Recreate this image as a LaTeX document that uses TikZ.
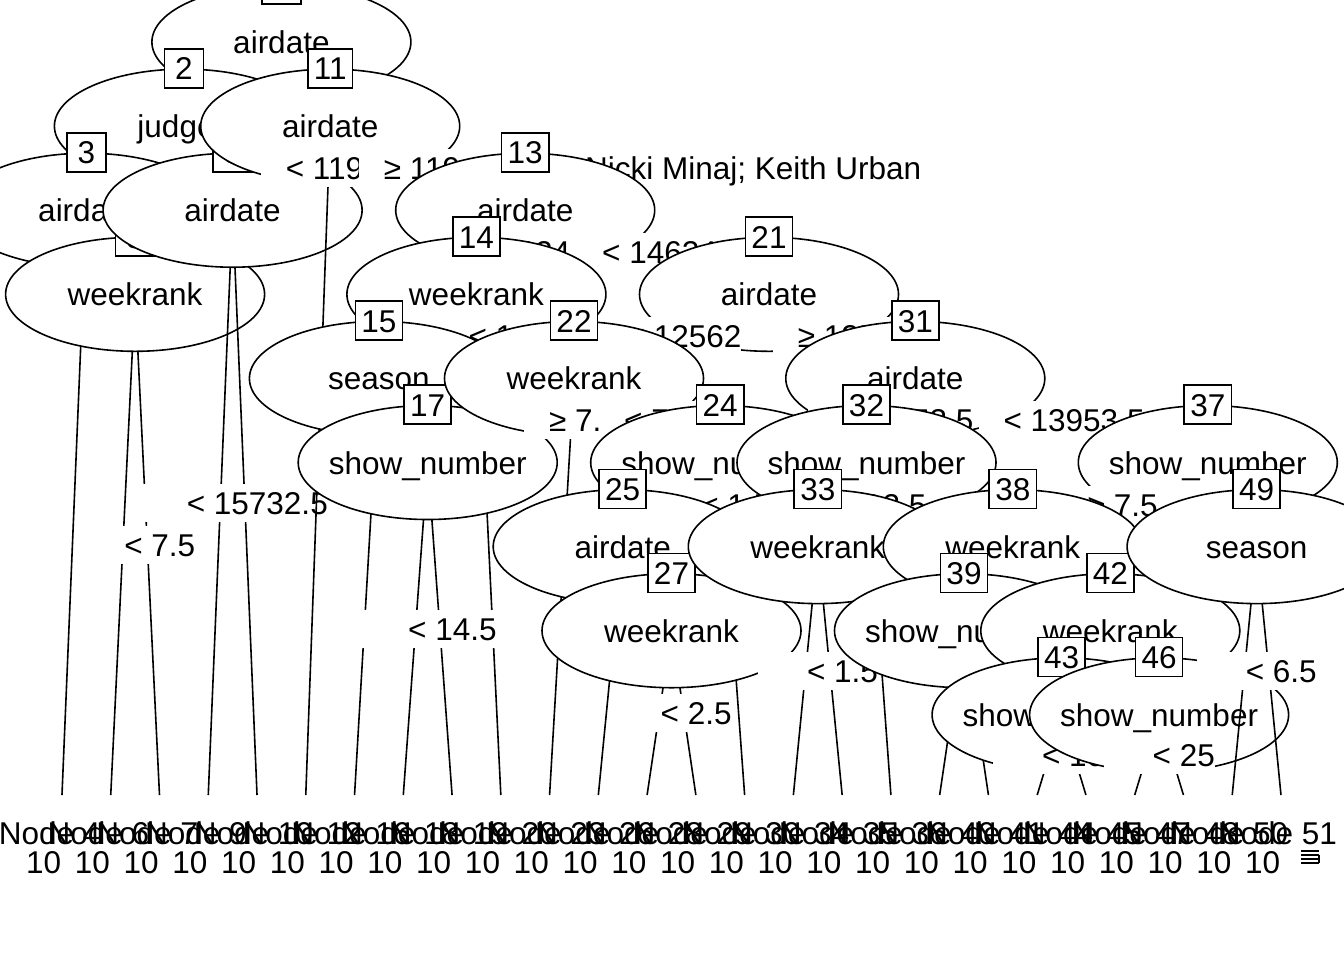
\documentclass[tikz,border=0pt]{standalone}
\usepackage{fontspec}
\setmainfont{Liberation Sans}
\usetikzlibrary{shapes.geometric}
\begin{document}
\begin{tikzpicture}[x=0.5pt, y=-0.5pt, line width=0.8pt,
  font=\fontsize{15.75}{18}\selectfont,
  every node/.style={text height=11.5pt, text depth=0pt},
  splitnode/.style={draw, ellipse, fill=white, inner sep=0pt, minimum width=129.5pt, minimum height=57pt},
  idbox/.style={draw, fill=white, inner xsep=3pt, inner ysep=0pt, minimum width=19.5pt, minimum height=19.5pt},
  edgelab/.style={fill=white, inner sep=0pt, minimum height=19pt, execute at begin node={\hspace*{12.5pt}}},
  termlab/.style={inner sep=0pt}]
\useasboundingbox (0,0) rectangle (1344,960);
% split positions
\coordinate (c1) at (281.4,42);
\coordinate (c2) at (183.9,126.1);
\coordinate (c11) at (330.2,126.1);
\coordinate (c3) at (86.4,210.2);
\coordinate (c8) at (232.6,210.2);
\coordinate (c13) at (525.2,210.2);
\coordinate (c5) at (135.1,294.3);
\coordinate (c14) at (476.4,294.3);
\coordinate (c21) at (769,294.3);
\coordinate (c15) at (378.9,378.4);
\coordinate (c22) at (574,378.4);
\coordinate (c31) at (915.3,378.4);
\coordinate (c17) at (427.7,462.5);
\coordinate (c24) at (720.2,462.5);
\coordinate (c32) at (866.5,462.5);
\coordinate (c37) at (1207.8,462.5);
\coordinate (c25) at (622.7,546.6);
\coordinate (c33) at (817.8,546.6);
\coordinate (c38) at (1012.8,546.6);
\coordinate (c49) at (1256.6,546.6);
\coordinate (c27) at (671.5,630.7);
\coordinate (c39) at (964,630.7);
\coordinate (c42) at (1110.3,630.7);
\coordinate (c43) at (1061.6,714.8);
\coordinate (c46) at (1159.1,714.8);
% leaf tops
\foreach \k/\u in {4/0.5,6/1.5,7/2.5,9/3.5,10/4.5,12/5.5,16/6.5,18/7.5,19/8.5,20/9.5,23/10.5,26/11.5,28/12.5,29/13.5,30/14.5,34/15.5,35/16.5,36/17.5,40/18.5,41/19.5,44/20.5,45/21.5,47/22.5,48/23.5,50/24.5,51/25.5}
  \coordinate (t\k) at ({37.6+48.76*\u},795);

% node 1
\draw (c1) -- (c2) (c1) -- (c11);
\node[splitnode] (n1) at (c1) {\makebox[0pt]{airdate}};
\node[idbox] (b1) at (n1.north) {1};
% node 2
\draw (c2) -- (c3) (c2) -- (c8);
\node[splitnode] (n2) at (c2) {\makebox[0pt]{judges}};
\node[idbox] (b2) at (n2.north) {2};
\node[edgelab, anchor=east] (l8) at (922,168.2) {Nicki Minaj; Keith Urban};
% node 3
\draw (c3) -- (t4) (c3) -- (c5);
\node[splitnode] (n3) at (c3) {\makebox[0pt]{airdate}};
\node[idbox] (b3) at (n3.north) {3};
% node 5
\draw (c5) -- (t6) (c5) -- (t7);
\node[splitnode] (n5) at (c5) {\makebox[0pt]{weekrank}};
\node[idbox] (b5) at (n5.north) {5};
\path (c5) -- (t6) node[edgelab, pos=.5] (l6) {≥ 7.5};
\path (c5) -- (t7) node[edgelab, pos=.5] (l7) {< 7.5};
% node 8
\draw (c8) -- (t9) (c8) -- (t10);
\node[splitnode] (n8) at (c8) {\makebox[0pt]{airdate}};
\node[idbox] (b8) at (n8.north) {8};
\path (c8) -- (t9) node[edgelab, pos=.5] (l9) {≥ 15732.5};
\path (c8) -- (t10) node[edgelab, pos=.5] (l10) {< 15732.5};
% node 11
\draw (c11) -- (t12) (c11) -- (c13);
\node[splitnode] (n11) at (c11) {\makebox[0pt]{airdate}};
\node[idbox] (b11) at (n11.north) {11};
\node[edgelab, anchor=west] (l12) at (260,168.2) {< 119};
\node[edgelab, anchor=west] (l13) at (358,168.2) {≥ 119};
% node 13
\draw (c13) -- (c14) (c13) -- (c21);
\node[splitnode] (n13) at (c13) {\makebox[0pt]{airdate}};
\node[idbox] (b13) at (n13.north) {13};
\path (c13) -- (c14) node[edgelab, pos=.5] (l14) {≥ 14624};
\path (c13) -- (c21) node[edgelab, pos=.5] (l21) {< 14624};
% node 14
\draw (c14) -- (c15) (c14) -- (t20);
\node[splitnode] (n14) at (c14) {\makebox[0pt]{weekrank}};
\node[idbox] (b14) at (n14.north) {14};
\path (c14) -- (c15) node[edgelab, pos=.5] (l15) {≥ 1};
\path (c14) -- (t20) node[edgelab, pos=.084] (l20) {< 1};
% node 15
\draw (c15) -- (t16) (c15) -- (c17);
\node[splitnode] (n15) at (c15) {\makebox[0pt]{season}};
\node[idbox] (b15) at (n15.north) {15};
% node 17
\draw (c17) -- (t18) (c17) -- (t19);
\node[splitnode] (n17) at (c17) {\makebox[0pt]{show\_number}};
\node[idbox] (b17) at (n17.north) {17};
\path (c17) -- (t18) node[edgelab, pos=.5] (l18) {≥ 14.5};
\path (c17) -- (t19) node[edgelab, pos=.5] (l19) {< 14.5};
% node 21
\draw (c21) -- (c22) (c21) -- (c31);
\node[splitnode] (n21) at (c21) {\makebox[0pt]{airdate}};
\node[idbox] (b21) at (n21.north) {21};
\path (c21) -- (c22) node[edgelab, pos=.5] (l22) {< 12562};
\path (c21) -- (c31) node[edgelab, pos=.5] (l31) {≥ 12562};
% node 22
\draw (c22) -- (t23) (c22) -- (c24);
\node[splitnode] (n22) at (c22) {\makebox[0pt]{weekrank}};
\node[idbox] (b22) at (n22.north) {22};
\path (c22) -- (t23) node[edgelab, pos=.101] (l23) {≥ 7.5};
\path (c22) -- (c24) node[edgelab, pos=.5] (l24) {< 7.5};
% node 24
\draw (c24) -- (c25) (c24) -- (t30);
\node[splitnode] (n24) at (c24) {\makebox[0pt]{show\_number}};
\node[idbox] (b24) at (n24.north) {24};
\path (c24) -- (c25) node[edgelab, pos=.5] (l25) {≥ 1.5};
\path (c24) -- (t30) node[edgelab, pos=.1265] (l30) {< 1.5};
% node 25
\draw (c25) -- (t26) (c25) -- (c27);
\node[splitnode] (n25) at (c25) {\makebox[0pt]{airdate}};
\node[idbox] (b25) at (n25.north) {25};
% node 27
\draw (c27) -- (t28) (c27) -- (t29);
\node[splitnode] (n27) at (c27) {\makebox[0pt]{weekrank}};
\node[idbox] (b27) at (n27.north) {27};
\path (c27) -- (t28) node[edgelab, pos=.5] (l28) {≥ 2.5};
\path (c27) -- (t29) node[edgelab, pos=.5] (l29) {< 2.5};
% node 31
\draw (c31) -- (c32) (c31) -- (c37);
\node[splitnode] (n31) at (c31) {\makebox[0pt]{airdate}};
\node[idbox] (b31) at (n31.north) {31};
\path (c31) -- (c32) node[edgelab, pos=.5] (l32) {≥ 13953.5};
\path (c31) -- (c37) node[edgelab, pos=.5] (l37) {< 13953.5};
% node 32
\draw (c32) -- (c33) (c32) -- (t36);
\node[splitnode] (n32) at (c32) {\makebox[0pt]{show\_number}};
\node[idbox] (b32) at (n32.north) {32};
\path (c32) -- (c33) node[edgelab, pos=.5] (l33) {≥ 12.5};
\path (c32) -- (t36) node[edgelab, pos=.1265] (l36) {< 12.5};
% node 33
\draw (c33) -- (t34) (c33) -- (t35);
\node[splitnode] (n33) at (c33) {\makebox[0pt]{weekrank}};
\node[idbox] (b33) at (n33.north) {33};
\path (c33) -- (t34) node[edgelab, pos=.5] (l34) {≥ 1.5};
\path (c33) -- (t35) node[edgelab, pos=.5] (l35) {< 1.5};
% node 37
\draw (c37) -- (c38) (c37) -- (c49);
\node[splitnode] (n37) at (c37) {\makebox[0pt]{show\_number}};
\node[idbox] (b37) at (n37.north) {37};
\path (c37) -- (c38) node[edgelab, pos=.5] (l38) {≥ 7.5};
\path (c37) -- (c49) node[edgelab, pos=.5] (l49) {< 7.5};
% node 38
\draw (c38) -- (c39) (c38) -- (c42);
\node[splitnode] (n38) at (c38) {\makebox[0pt]{weekrank}};
\node[idbox] (b38) at (n38.north) {38};
% node 39
\draw (c39) -- (t40) (c39) -- (t41);
\node[splitnode] (n39) at (c39) {\makebox[0pt]{show\_number}};
\node[idbox] (b39) at (n39.north) {39};
% node 42
\draw (c42) -- (c43) (c42) -- (c46);
\node[splitnode] (n42) at (c42) {\makebox[0pt]{weekrank}};
\node[idbox] (b42) at (n42.north) {42};
% node 43
\draw (c43) -- (t44) (c43) -- (t45);
\node[splitnode] (n43) at (c43) {\makebox[0pt]{show\_number}};
\node[idbox] (b43) at (n43.north) {43};
\path (c43) -- (t44) node[edgelab, pos=.5] (l44) {≥ 10.5};
\path (c43) -- (t45) node[edgelab, pos=.5] (l45) {< 10.5};
% node 46
\draw (c46) -- (t47) (c46) -- (t48);
\node[splitnode] (n46) at (c46) {\makebox[0pt]{show\_number}};
\node[idbox] (b46) at (n46.north) {46};
\path (c46) -- (t47) node[edgelab, pos=.5] (l47) {≥ 25};
\path (c46) -- (t48) node[edgelab, pos=.5] (l48) {< 25};
% node 49
\draw (c49) -- (t50) (c49) -- (t51);
\node[splitnode] (n49) at (c49) {\makebox[0pt]{season}};
\node[idbox] (b49) at (n49.north) {49};
\path (c49) -- (t50) node[edgelab, pos=.5] (l50) {≥ 6.5};
\path (c49) -- (t51) node[edgelab, pos=.5] (l51) {< 6.5};

% terminal panels
\foreach \k in {4,6,7,9,10,12,16,18,19,20,23,26,28,29,30,34,35,36,40,41,44,45,47,48,50,51} {
  \node[termlab, anchor=west] (h\k) at ([shift={(-64,38)}]t\k) {Node \k};
  \node[termlab, anchor=east] (m\k) at ([shift={(0,67)}]t\k) {10};
}
\draw (1301,851) -- (1319,851) (1301,855) -- (1319,855) (1301,859) -- (1319,859)
  (1301,863) -- (1319,863) (1319,855) -- (1319,863);
\end{tikzpicture}
\end{document}
